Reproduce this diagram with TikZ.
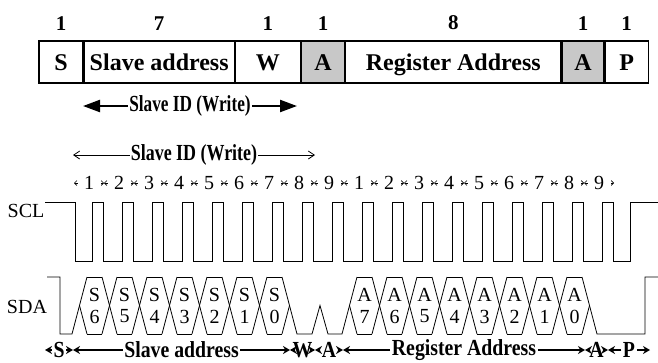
\documentclass[tikz,border=0pt]{standalone}
\usepackage{fontspec}
\setmainfont{Liberation Serif}
\usetikzlibrary{positioning,arrows.meta}

\definecolor{ackgray}{RGB}{200,200,200}

\tikzset{
  field/.style={draw,line width=1.2pt,minimum height=42pt,inner sep=0pt,
    text height=16pt,text depth=0pt,
    font=\fontsize{24}{24}\selectfont\bfseries},
  ackfield/.style={field,fill=ackgray},
  bitcount/.style={font=\fontsize{21}{21}\selectfont\bfseries,inner sep=0pt},
  wave/.style={line width=0.8pt,line join=miter},
  siglabel/.style={font=\fontsize{20}{20}\selectfont,inner sep=0pt},
  bitlabel/.style={font=\fontsize{20}{20}\selectfont,inner sep=0pt},
  bigspan/.style={line width=2.2pt,{Triangle[length=17pt,width=12pt]}-{Triangle[length=17pt,width=12pt]}},
  thinspan/.style={line width=0.8pt,{Straight Barb[length=6pt,width=8pt]}-{Straight Barb[length=6pt,width=8pt]}},
  clockspan/.style={line width=0.6pt,{Straight Barb[length=2.5pt,width=5pt]}-{Straight Barb[length=2.5pt,width=5pt]}},
  fieldtip/.style={line width=1.6pt,-{Stealth[length=7pt,width=8pt]}},
  spantext/.style={fill=white,inner sep=1pt,font=\fontsize{23}{23}\selectfont\bfseries},
  fieldtext/.style={inner sep=1.5pt,font=\fontsize{23}{23}\selectfont\bfseries}
}

\begin{document}
\begin{tikzpicture}[x=1pt,y=1pt,yscale=-1]
\useasboundingbox (0,0) rectangle (658,362);

% frame fields
\node[field,minimum width=44pt] (start) at (61,62) {S};
\node[field,minimum width=150pt,right=0pt of start] (slave) {Slave address};
\node[field,minimum width=65pt,right=0pt of slave] (wbit) {W};
\node[ackfield,minimum width=43pt,right=0pt of wbit] (ack1) {A};
\node[field,minimum width=215pt,right=0pt of ack1] (reg) {Register Address};
\node[ackfield,minimum width=42pt,right=0pt of reg] (ack2) {A};
\node[field,minimum width=43pt,right=0pt of ack2] (stop) {P};

% bit counts
\foreach \f/\n in {start/1,slave/7,wbit/1,ack1/1,reg/8,ack2/1,stop/1}
  \node[bitcount,above=10pt of \f] (cnt-\f) {\n};

% slave id spans
\coordinate (idL) at (83,106);
\coordinate (idR) at (297,106);
\draw[bigspan] (idL) -- node[spantext] (idtext) {\scalebox{0.75}[1]{Slave ID (Write)}} (idR);

\coordinate (id2L) at (73,155);
\coordinate (id2R) at (315,155);
\draw[thinspan] (id2L) -- node[spantext] (id2text) {\scalebox{0.78}[1]{Slave ID (Write)}} (id2R);

% clock numbers
\foreach \k in {0,...,17} {
  \pgfmathtruncatemacro\n{mod(\k,9)+1}
  \draw[clockspan] ({74+30*\k},183) -- node[fill=white,inner sep=0pt,minimum width=23pt,
    font=\fontsize{20}{20}\selectfont] (clk\k) {\n} ({104+30*\k},183);
}

% SCL
\node[siglabel] (scl) at (26,211) {SCL};
\draw[wave] (45,202) -- (75,202) -- (75,261)
  \foreach \k in {0,...,17} { -- ({92+30*\k},261) -- ({92+30*\k},202)
    -- ({103+30*\k},202) -- ({103+30*\k},261) }
  -- (630,261) -- (630,202) -- (658,202);

% SDA
\node[siglabel] (sda) at (27,307) {SDA};
\draw[wave] (47,277) -- (60,277) -- (60,334) -- (72,334) -- (87,277);
\draw[wave] (79.5,305.5) -- (87,334);
\draw[wave] (282,334) -- (289.5,305.5);
\draw[wave] (282,277) -- (297,334) -- (312,334) -- (320,305.5) -- (328,334)
  -- (342,334) -- (357,277);
\draw[wave] (349.5,305.5) -- (357,334);
\draw[wave] (582,334) -- (589.5,305.5);
\draw[wave] (582,277) -- (597,334) -- (645,334) -- (645,277) -- (658,277);
\foreach \k in {1,2,3,4,5,6,7,10,11,12,13,14,15,16,17} {
  \draw[wave] ({57+30*\k},277) -- ({72+30*\k},277);
  \draw[wave] ({57+30*\k},334) -- ({72+30*\k},334);
}
\foreach \k in {1,2,3,4,5,6,10,11,12,13,14,15,16} {
  \draw[wave] ({72+30*\k},277) -- ({87+30*\k},334);
  \draw[wave] ({72+30*\k},334) -- ({87+30*\k},277);
}
\foreach \b [count=\k] in {6,5,4,3,2,1,0} {
  \node[bitlabel] (sh\b) at ({64.5+30*\k},295) {S};
  \node[bitlabel] (sl\b) at ({64.5+30*\k},316.5) {\b};
}
\foreach \b [count=\k from 10] in {7,6,5,4,3,2,1,0} {
  \node[bitlabel] (ah\b) at ({64.5+30*\k},295) {A};
  \node[bitlabel] (al\b) at ({64.5+30*\k},316.5) {\b};
}

% field spans
\foreach \a/\b/\t [count=\i] in {45/73/S,73/290/Slave address,290/315/W,315/343/A,
    343/585/Register Address,585/608/A,608/650/P} {
  \node[fieldtext] (span\i) at ({(\a+\b)/2},350) {\scalebox{0.86}[1]{\t}};
  \draw[fieldtip] (span\i.west) -- (\a,350);
  \draw[fieldtip] (span\i.east) -- (\b,350);
}
\end{tikzpicture}
\end{document}
